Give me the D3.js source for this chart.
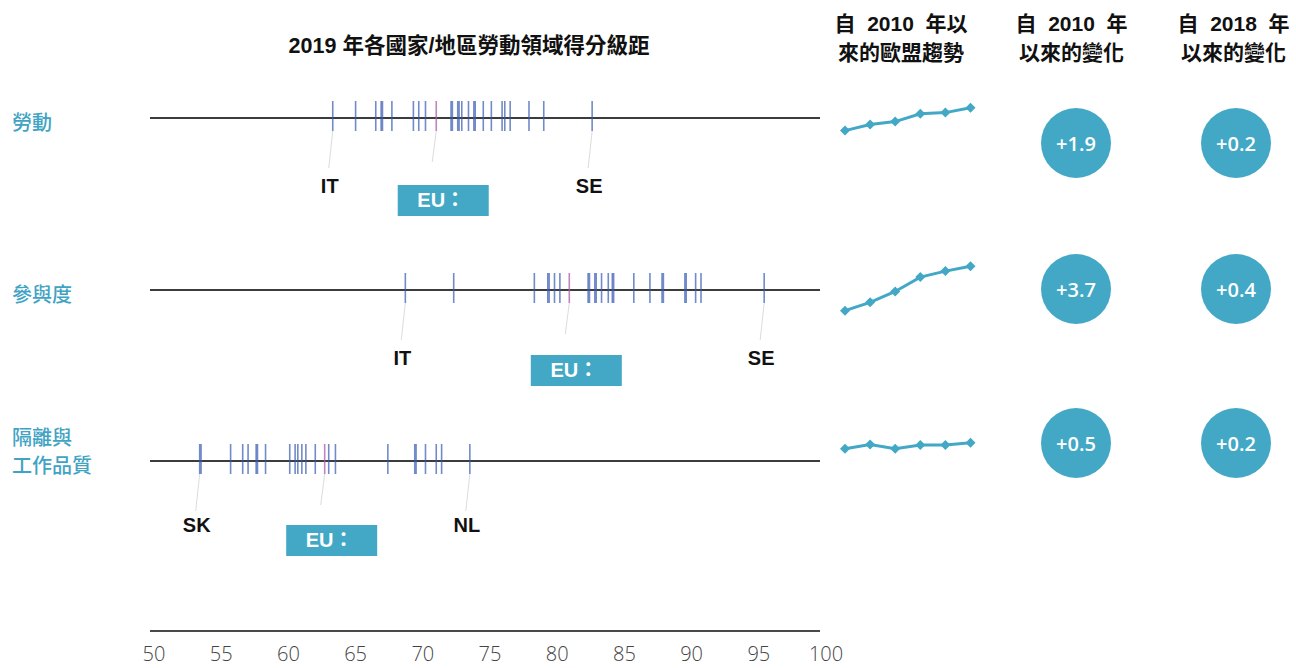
<!DOCTYPE html>
<html><head><meta charset="utf-8">
<script src="https://cdn.jsdelivr.net/npm/d3@7"></script>
<style>body{margin:0;background:#fff}svg{display:block}</style>
</head><body>
<svg id="c" width="1296" height="668"></svg>
<script>
// ---------- data ----------
const domainNames = [["勞動"], ["參與度"], ["隔離與", "工作品質"]];
const workScores = [63.3, 65.0, 66.5, 66.9, 67.0, 67.7, 69.3, 69.7, 70.2, 72.1, 72.2, 72.6, 72.7, 72.9, 73.4, 73.8, 73.9, 74.5, 75.1, 75.9, 76.1, 76.5, 77.9, 79.0, 82.6];
const participationScores = [68.7, 72.3, 78.3, 79.3, 79.4, 79.8, 80.2, 82.3, 82.4, 82.8, 82.9, 83.3, 83.8, 84.1, 84.2, 85.7, 86.9, 87.8, 87.9, 89.5, 89.6, 90.3, 90.7, 95.4];
const segregationScores = [53.4, 53.5, 55.7, 56.6, 57.0, 57.6, 57.7, 58.3, 60.1, 60.5, 60.7, 61.0, 61.3, 62.0, 63.0, 63.5, 67.4, 69.4, 69.5, 70.2, 71.0, 71.4, 73.5];
const euScores = [71.0, 80.9, 62.7];
const lowCountries = ["IT", "IT", "SK"];
const lowScores = [63.3, 68.7, 53.4];
const highCountries = ["SE", "SE", "NL"];
const highScores = [82.6, 95.4, 73.5];
const trendYears = ["2010", "2012", "2015", "2017", "2018", "2019"];
const trendWork = [69.1, 69.6, 69.85, 70.5, 70.6, 71.0];
const trendParticipation = [77.2, 77.9, 78.8, 80.0, 80.5, 80.9];
const trendSegregation = [62.2, 62.55, 62.2, 62.5, 62.5, 62.7];
const change2010 = ["+1.9", "+3.7", "+0.5"];
const change2018 = ["+0.2", "+0.4", "+0.2"];
const axisTicks = [50, 55, 60, 65, 70, 75, 80, 85, 90, 95, 100];
const chartTitle = "2019 年各國家/地區勞動領域得分級距";
const headers = [["自  2010  年以", "來的歐盟趨勢"], ["自  2010  年", "以來的變化"], ["自  2018  年", "以來的變化"]];

// ---------- layout ----------
const scores = [workScores, participationScores, segregationScores];
const trends = [trendWork, trendParticipation, trendSegregation];
const TEAL = "#42a8c6";
const LATIN = "'Liberation Sans', Arial, 'Noto Sans CJK TC', sans-serif";
const CJK = "'Noto Sans CJK TC', 'Noto Sans CJK SC', sans-serif";
const rowY = [118, 290, 461];
const labelDy = [75, 75, 71];
const boxDy = [67, 65, 64];
const sparkCy = [119.2, 288.5, 445.7];
const circleY = [143, 289, 443];
const circleX = [1076, 1236];

const svg = d3.select("#c");
const x = d3.scaleLinear().domain([50, 100]).range([154, 826]);
const sx = d3.scalePoint().domain(trendYears).range([845, 970.5]);

// title
svg.append("text").attr("x", 469).attr("y", 53).attr("text-anchor", "middle")
  .attr("font-family", LATIN).attr("font-weight", "bold").attr("font-size", 21.5)
  .attr("fill", "#111").text(chartTitle);

// headers
const hx = [901, 1071.5, 1233.5];
headers.forEach((lines, i) => {
  lines.forEach((t, j) => {
    svg.append("text").attr("x", hx[i]).attr("y", 31 + j * 29).attr("text-anchor", "middle")
      .style("white-space", "pre")
      .attr("font-family", LATIN).attr("font-weight", "bold").attr("font-size", 21)
      .attr("fill", "#111").text(t);
  });
});

scores.forEach((vals, i) => {
  const g = svg.append("g");
  const y0 = rowY[i];
  // row label
  const names = domainNames[i];
  const ly = names.length === 1 ? [y0 + 12] : [y0 - 16, y0 + 12];
  names.forEach((n, j) => {
    g.append("text").attr("x", 12).attr("y", ly[j]).attr("font-family", CJK)
      .attr("font-size", 20).attr("font-weight", 500).attr("fill", "#3fa3c4").text(n);
  });
  // baseline
  g.append("line").attr("x1", 150).attr("x2", 820).attr("y1", y0).attr("y2", y0)
    .attr("stroke", "#3c3c3c").attr("stroke-width", 2);
  // leader lines
  const leader = (v, len) => g.append("line")
    .attr("x1", x(v)).attr("y1", y0 + 13).attr("x2", x(v) - 4).attr("y2", y0 + len)
    .attr("stroke", "#dcdcdc").attr("stroke-width", 1);
  leader(lowScores[i], 50);
  leader(highScores[i], 50);
  leader(euScores[i], 44);
  // country ticks
  g.selectAll("line.t").data(vals).join("line").attr("class", "t")
    .attr("x1", d => x(d)).attr("x2", d => x(d)).attr("y1", y0 - 17).attr("y2", y0 + 13)
    .attr("stroke", "#3658b0").attr("stroke-opacity", 0.7).attr("stroke-width", 1.6);
  // EU tick
  g.append("line").attr("x1", x(euScores[i])).attr("x2", x(euScores[i]))
    .attr("y1", y0 - 17).attr("y2", y0 + 13)
    .attr("stroke", "#a85ca8").attr("stroke-opacity", 0.75).attr("stroke-width", 1.6);
  // country labels
  [[lowCountries[i], lowScores[i]], [highCountries[i], highScores[i]]].forEach(([c, v]) => {
    g.append("text").attr("x", x(v) - 3).attr("y", y0 + labelDy[i]).attr("text-anchor", "middle")
      .attr("font-family", LATIN).attr("font-weight", "bold").attr("font-size", 20)
      .attr("fill", "#111").text(c);
  });
  // EU box
  const bx = x(euScores[i]) + 7;
  g.append("rect").attr("x", bx - 45.5).attr("y", y0 + boxDy[i]).attr("width", 91).attr("height", 31)
    .attr("fill", TEAL);
  g.append("text").attr("x", bx - 2).attr("y", y0 + boxDy[i] + 22).attr("text-anchor", "middle")
    .attr("font-family", LATIN).attr("font-weight", "bold").attr("font-size", 20)
    .attr("fill", "#fff").text("EU：");

  // sparkline
  const tv = trends[i];
  const ext = d3.extent(tv), mid = (ext[0] + ext[1]) / 2;
  const sy = d3.scaleLinear().domain([mid - 1, mid + 1]).range([sparkCy[i] + 12, sparkCy[i] - 12]);
  const pts = trendYears.map((yr, k) => [sx(yr), sy(tv[k])]);
  g.append("path").attr("d", d3.line()(pts)).attr("fill", "none")
    .attr("stroke", TEAL).attr("stroke-width", 3);
  g.selectAll("path.m").data(pts).join("path").attr("class", "m")
    .attr("d", d3.symbol(d3.symbolSquare, 50)())
    .attr("transform", d => `translate(${d[0]},${d[1]}) rotate(45)`).attr("fill", TEAL);

  // change circles
  [change2010[i], change2018[i]].forEach((t, k) => {
    g.append("circle").attr("cx", circleX[k]).attr("cy", circleY[i]).attr("r", 35).attr("fill", TEAL);
    g.append("text").attr("x", circleX[k]).attr("y", circleY[i] + 7.5).attr("text-anchor", "middle")
      .attr("font-family", "'Open Sans', sans-serif").attr("font-weight", 600).attr("font-size", 20)
      .attr("fill", "#fff").text(t);
  });
});

// bottom axis
svg.append("line").attr("x1", 150).attr("x2", 820).attr("y1", 631).attr("y2", 631)
  .attr("stroke", "#4a4a4a").attr("stroke-width", 2);
svg.selectAll("text.ax").data(axisTicks).join("text").attr("class", "ax")
  .attr("x", d => x(d)).attr("y", 661).attr("text-anchor", "middle")
  .attr("font-family", "'Open Sans', sans-serif").attr("font-weight", 300).attr("font-size", 20)
  .attr("fill", "#444").text(d => d);
</script>
</body></html>
